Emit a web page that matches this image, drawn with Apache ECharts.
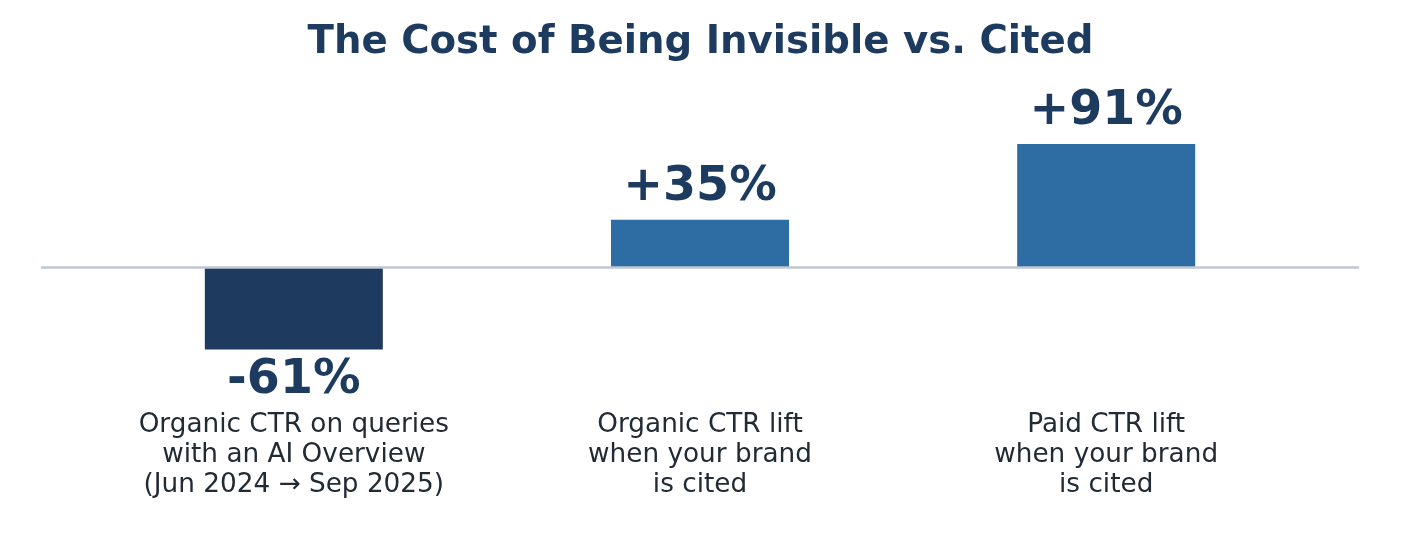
<!DOCTYPE html>
<html>
<head>
<meta charset="utf-8">
<script src="https://cdn.jsdelivr.net/npm/echarts@6/dist/echarts.min.js"></script>
<style>
html,body{margin:0;padding:0;background:#fff;}
#main{width:1401px;height:553px;}
</style>
</head>
<body>
<div id="main"></div>
<script>
var categories = [
  'Organic CTR on queries\nwith an AI Overview\n(Jun 2024 \u2192 Sep 2025)',
  'Organic CTR lift\nwhen your brand\nis cited',
  'Paid CTR lift\nwhen your brand\nis cited'
];
var values = [-61, 35, 91];
var barColors = ['#1e3a5f', '#2e6da4', '#2e6da4'];
var positions = [0, 1, 2];

var chart = echarts.init(document.getElementById('main'), null, {renderer: 'canvas'});
var font = 'DejaVu Sans';
chart.setOption({
  animation: false,
  title: {
    text: 'The Cost of Being Invisible vs. Cited',
    left: 'center',
    top: 18,
    textStyle: {fontFamily: font, fontSize: 38.7, fontWeight: 'bold', color: '#1d3a5f'}
  },
  grid: {left: 42, right: 43, top: 77.7, height: 324.5, containLabel: false, outerBoundsMode: 'none'},
  xAxis: {
    type: 'value',
    min: -0.62,
    max: 2.62,
    z: 5,
    axisLine: {show: true, onZero: true, lineStyle: {color: '#bec8d4', width: 2.5}},
    axisTick: {show: false},
    splitLine: {show: false},
    axisLabel: {
      customValues: positions,
      margin: 8,
      formatter: function (v) { return categories[Math.round(v)]; },
      fontFamily: font,
      fontSize: 26.3,
      lineHeight: 30,
      color: '#222a33',
      align: 'center',
      verticalAlign: 'top'
    }
  },
  yAxis: {
    type: 'value',
    min: -100,
    max: 140,
    show: false,
    splitLine: {show: false}
  },
  series: [{
    type: 'bar',
    barWidth: 178,
    data: values.map(function (v, i) {
      return {
        value: [positions[i], v],
        itemStyle: {color: barColors[i]},
        label: {position: v < 0 ? 'bottom' : 'top', distance: v < 0 ? 7 : 8}
      };
    }),
    label: {
      show: true,
      fontFamily: font,
      fontSize: 47.5,
      fontWeight: 'bold',
      color: '#1d3a5f',
      formatter: function (p) {
        var v = p.value[1];
        return (v > 0 ? '+' : '') + v + '%';
      }
    }
  }]
});
</script>
</body>
</html>
